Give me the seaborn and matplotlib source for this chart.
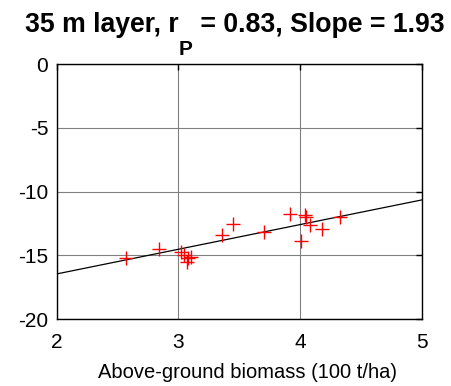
import numpy as np
import pandas as pd
import seaborn as sns
import matplotlib.pyplot as plt

# Points
biomass = [2.57, 2.84, 3.02, 3.05, 3.08, 3.07, 3.10, 3.36, 3.45, 3.70,
           3.92, 4.04, 4.05, 4.08, 4.18, 4.01, 4.33]
backscatter = [-15.2, -14.5, -14.7, -15.0, -15.2, -15.5, -15.1, -13.4, -12.5, -13.2,
               -11.75, -11.8, -12.0, -12.65, -12.9, -13.9, -12.0]

# Fitted line endpoints
fit_x = [2, 5]
fit_y = [-16.45, -10.65]

df = pd.DataFrame({"Biomass": biomass, "dB": backscatter})
fit = pd.DataFrame({"Biomass": fit_x, "dB": fit_y})

sns.set_style("white")
plt.rcParams['font.family'] = ['Liberation Sans', 'DejaVu Sans']
plt.rcParams['axes.unicode_minus'] = False
plt.rcParams['text.color'] = 'black'
plt.rcParams['axes.labelcolor'] = 'black'
plt.rcParams['xtick.color'] = 'black'
plt.rcParams['ytick.color'] = 'black'

fig = plt.figure(figsize=(4.52, 3.86), dpi=100)
ax = fig.add_axes([0.1254, 0.173, 0.8076, 0.661])

sns.lineplot(data=fit, x="Biomass", y="dB", color="black", linewidth=0.9, ax=ax)
sns.scatterplot(data=df, x="Biomass", y="dB", marker="+", color="red",
                s=110, linewidth=1.0, ax=ax, zorder=3)

ax.set_xlim(2, 5)
ax.set_ylim(-20, 0)
ax.set_xticks([2, 3, 4, 5])
ax.set_yticks([0, -5, -10, -15, -20])
ax.grid(True, color="#808080", linewidth=0.8)
ax.tick_params(direction="in", length=4, width=1, labelsize=15,
               top=True, right=True, color="black", labelcolor="black")
ax.tick_params(axis="x", pad=10)
ax.tick_params(axis="y", pad=6)
for s in ax.spines.values():
    s.set_color("black")
    s.set_linewidth(1)

ax.set_xlabel("Above-ground biomass (100 t/ha)", fontsize=14.5, color="black")
ax.xaxis.set_label_coords(0.524, -0.17)
ax.xaxis.label.set_va("top")
ax.set_ylabel("")

# Title with a large, low subscript, built from pieces
W, H = fig.get_size_inches() * fig.dpi
renderer = fig.canvas.get_renderer()
pieces = [("35 m layer, r", 19.2, 31.7), ("P", 15, 55), (" = 0.83, Slope = 1.93", 19.2, 31.7)]
texts = []
for txt, size, base in pieces:
    t = fig.text(0, 1 - base / H, txt, fontsize=size, fontweight="bold",
                 ha="left", va="baseline", color="black")
    texts.append(t)
widths = [t.get_window_extent(renderer).width for t in texts]
x = 235 - sum(widths) / 2
for t, w in zip(texts, widths):
    t.set_x(x / W)
    x += w

plt.savefig("out.png", dpi=100)
